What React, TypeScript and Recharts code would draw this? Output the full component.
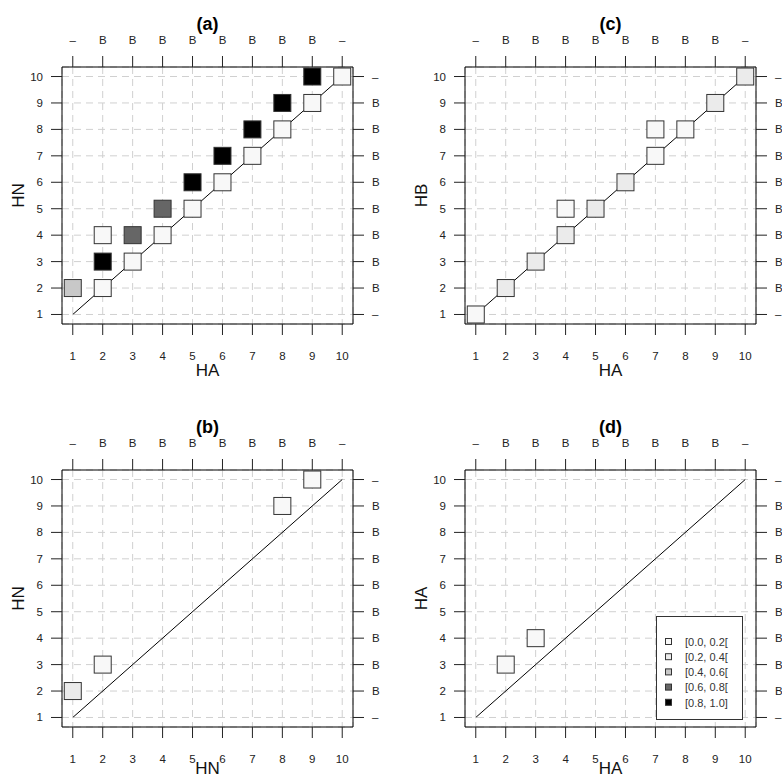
import React from "react";
import { ScatterChart, Scatter, XAxis, YAxis, CartesianGrid, Legend } from "recharts";

const axisTicks = [1, 2, 3, 4, 5, 6, 7, 8, 9, 10];
const sideLabels = ["–", "B", "B", "B", "B", "B", "B", "B", "B", "–"];
const binLabels = ["[0.0, 0.2[", "[0.2, 0.4[", "[0.4, 0.6[", "[0.6, 0.8[", "[0.8, 1.0]"];
const binFills = ["#f8f8f8", "#ebebeb", "#c8c8c8", "#666666", "#000000"];

// bin = index into binFills / binLabels
const pointsA = [
  { x: 1, y: 2, bin: 2 },
  { x: 2, y: 2, bin: 0 },
  { x: 2, y: 3, bin: 4 },
  { x: 2, y: 4, bin: 0 },
  { x: 3, y: 3, bin: 0 },
  { x: 3, y: 4, bin: 3 },
  { x: 4, y: 4, bin: 0 },
  { x: 4, y: 5, bin: 3 },
  { x: 5, y: 5, bin: 0 },
  { x: 5, y: 6, bin: 4 },
  { x: 6, y: 6, bin: 0 },
  { x: 6, y: 7, bin: 4 },
  { x: 7, y: 7, bin: 0 },
  { x: 7, y: 8, bin: 4 },
  { x: 8, y: 8, bin: 0 },
  { x: 8, y: 9, bin: 4 },
  { x: 9, y: 9, bin: 0 },
  { x: 9, y: 10, bin: 4 },
  { x: 10, y: 10, bin: 0 },
];

const pointsB = [
  { x: 1, y: 2, bin: 1 },
  { x: 2, y: 3, bin: 0 },
  { x: 8, y: 9, bin: 0 },
  { x: 9, y: 10, bin: 0 },
];

const pointsC = [
  { x: 1, y: 1, bin: 0 },
  { x: 2, y: 2, bin: 1 },
  { x: 3, y: 3, bin: 1 },
  { x: 4, y: 4, bin: 1 },
  { x: 4, y: 5, bin: 0 },
  { x: 5, y: 5, bin: 1 },
  { x: 6, y: 6, bin: 1 },
  { x: 7, y: 7, bin: 0 },
  { x: 7, y: 8, bin: 0 },
  { x: 8, y: 8, bin: 0 },
  { x: 9, y: 9, bin: 1 },
  { x: 10, y: 10, bin: 1 },
];

const pointsD = [
  { x: 2, y: 3, bin: 0 },
  { x: 3, y: 4, bin: 0 },
];

const diagonal = [
  { x: 1, y: 1 },
  { x: 10, y: 10 },
];

const FONT = "'Liberation Sans', Arial, Helvetica, sans-serif";
const domain: [number, number] = [0.64, 10.36];

const Square = (props: any) => {
  const { cx, cy, payload } = props;
  return (
    <rect
      x={cx - 8.5}
      y={cy - 8.5}
      width={17}
      height={17}
      fill={binFills[payload.bin]}
      stroke="#333"
      strokeWidth={1}
    />
  );
};

const tickText = { fontSize: 11.5, fill: "#222", fontFamily: FONT };

const BottomTick = ({ x, y, payload }: any) => (
  <text x={x} y={y + 25} textAnchor="middle" {...tickText}>
    {payload.value}
  </text>
);
const TopTick = ({ x, y, payload }: any) => (
  <text x={x} y={y - 12} textAnchor="middle" {...tickText}>
    {sideLabels[payload.value - 1]}
  </text>
);
const LeftTick = ({ x, y, payload }: any) => (
  <text x={x - 8} y={y + 4} textAnchor="end" {...tickText}>
    {payload.value}
  </text>
);
const RightTick = ({ x, y, payload }: any) => (
  <text x={x + 8} y={y + 4} textAnchor="start" {...tickText}>
    {sideLabels[payload.value - 1]}
  </text>
);

const BinLegend = () => (
  <svg width={87} height={104} style={{ display: "block" }}>
    <rect x={0.5} y={0.5} width={86} height={103} fill="#fff" stroke="#333" />
    {binLabels.map((label, i) => (
      <g key={label}>
        <rect x={9.5} y={22.5 + i * 15.2} width={6} height={6} fill={binFills[i]} stroke="#333" />
        <text x={29} y={29.7 + i * 15.2} fontSize={11} fill="#333" fontFamily={FONT}>
          {label}
        </text>
      </g>
    ))}
  </svg>
);

type PanelProps = {
  title: string;
  xName: string;
  yName: string;
  points: { x: number; y: number; bin: number }[];
  left: number;
  top: number;
  xNameGap: number;
  withLegend?: boolean;
};

const Panel = ({ title, xName, yName, points, left, top, xNameGap, withLegend }: PanelProps) => (
  <div style={{ position: "absolute", left, top }}>
    <ScatterChart
      width={403}
      height={403}
      margin={{ top: 37, right: 10, bottom: 49, left: 22 }}
      style={{ fontFamily: FONT }}
    >
      <CartesianGrid stroke="#d0d0d0" strokeDasharray="7 5" />
      <XAxis
        dataKey="x"
        type="number"
        domain={domain}
        ticks={axisTicks}
        allowDataOverflow
        height={30}
        tickSize={11}
        tickMargin={0}
        axisLine={{ stroke: "#000" }}
        tickLine={{ stroke: "#222" }}
        tick={<BottomTick />}
        label={{
          content: (p: any) => (
            <text
              x={p.viewBox.x + p.viewBox.width / 2}
              y={p.viewBox.y + xNameGap}
              textAnchor="middle"
              fontSize={17}
              fill="#111"
              fontFamily={FONT}
            >
              {xName}
            </text>
          ),
        }}
      />
      <XAxis
        xAxisId="top"
        orientation="top"
        dataKey="x"
        type="number"
        domain={domain}
        ticks={axisTicks}
        allowDataOverflow
        height={30}
        tickSize={11}
        tickMargin={0}
        axisLine={{ stroke: "#000" }}
        tickLine={{ stroke: "#222" }}
        tick={<TopTick />}
        label={{
          content: (p: any) => (
            <text
              x={p.viewBox.x + p.viewBox.width / 2}
              y={p.viewBox.y + p.viewBox.height - 37}
              textAnchor="middle"
              fontSize={18}
              fontWeight="bold"
              fill="#000"
              fontFamily={FONT}
            >
              {title}
            </text>
          ),
        }}
      />
      <YAxis
        dataKey="y"
        type="number"
        domain={domain}
        ticks={axisTicks}
        allowDataOverflow
        width={40}
        tickSize={11}
        tickMargin={0}
        axisLine={{ stroke: "#000" }}
        tickLine={{ stroke: "#222" }}
        tick={<LeftTick />}
        label={{
          content: (p: any) => {
            const cx = p.viewBox.x - 3.5;
            const cy = p.viewBox.y + p.viewBox.height / 2;
            return (
              <text
                x={cx}
                y={cy}
                transform={`rotate(-90 ${cx} ${cy})`}
                textAnchor="middle"
                dominantBaseline="central"
                fontSize={17}
                fill="#111"
                fontFamily={FONT}
              >
                {yName}
              </text>
            );
          },
        }}
      />
      <YAxis
        yAxisId="right"
        orientation="right"
        dataKey="y"
        type="number"
        domain={domain}
        ticks={axisTicks}
        allowDataOverflow
        width={40}
        tickSize={11}
        tickMargin={0}
        axisLine={{ stroke: "#000" }}
        tickLine={{ stroke: "#222" }}
        tick={<RightTick />}
      />
      <Scatter
        data={diagonal}
        line={{ stroke: "#000", strokeWidth: 1 }}
        shape={() => <g />}
        isAnimationActive={false}
      />
      <Scatter data={points} shape={<Square />} isAnimationActive={false} />
      {withLegend && (
        <Legend
          layout="horizontal"
          verticalAlign="middle"
          align="center"
          content={() => <BinLegend />}
          wrapperStyle={{ left: 253, top: 213, width: 87, height: 104 }}
        />
      )}
    </ScatterChart>
  </div>
);

export default function App() {
  return (
    <div
      style={{
        position: "fixed",
        left: 0,
        top: 0,
        width: 782,
        height: 780,
        overflow: "hidden",
        background: "#fff",
      }}
    >
      <Panel title="(a)" xName="HA" yName="HN" points={pointsA} left={0} top={0} xNameGap={52} />
      <Panel title="(c)" xName="HA" yName="HB" points={pointsC} left={403} top={0} xNameGap={52} />
      <Panel title="(b)" xName="HN" yName="HN" points={pointsB} left={0} top={403} xNameGap={47} />
      <Panel
        title="(d)"
        xName="HA"
        yName="HA"
        points={pointsD}
        left={403}
        top={403}
        xNameGap={47}
        withLegend
      />
    </div>
  );
}
